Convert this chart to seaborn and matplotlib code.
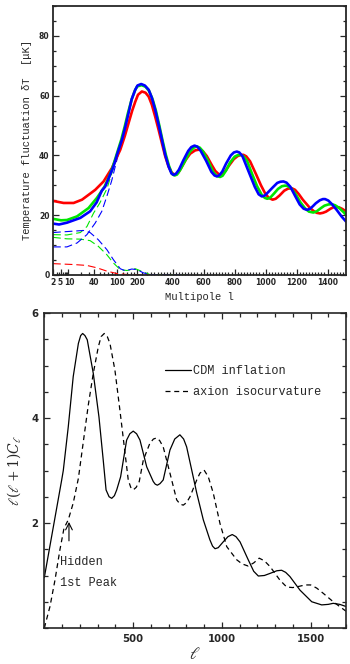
import numpy as np
import matplotlib
matplotlib.use("Agg")
import matplotlib.pyplot as plt
import seaborn as sns
from matplotlib.ticker import FixedLocator, MultipleLocator
from matplotlib.transforms import ScaledTranslation

# ---------------- top panel data (multipole l, delta T in microK) ----------------
red_l = [2, 6.4, 13.3, 20.8, 32, 41.6, 58, 81, 95, 111, 130, 148, 168, 187, 203, 219, 235, 250, 266, 284,
         304, 324, 345, 369, 393, 416, 437, 459, 485, 513, 545, 565, 577, 595, 620, 650, 675, 700, 718, 740,
         765, 795, 820, 840, 857, 875, 900, 940, 970, 995, 1020, 1045, 1065, 1090, 1120, 1145, 1170, 1190,
         1215, 1240, 1260, 1285, 1310, 1330, 1351, 1370, 1390, 1420, 1440, 1455, 1475, 1495, 1519]
red_T = [24.8, 24.1, 24.1, 25.2, 27.2, 28.5, 31.3, 35.8, 38.8, 41.9, 46.5, 50.8, 55.0, 58.0, 60.3, 61.4,
         61.0, 59.7, 57.0, 53.0, 48.5, 44.1, 39.8, 36.3, 34.2, 33.5, 34.3, 36.2, 38.6, 40.6, 41.7, 41.9,
         41.9, 41.4, 39.8, 37.0, 34.8, 33.6, 33.7, 34.8, 36.7, 38.8, 39.8, 40.2, 40.2, 39.7, 38.0, 33.5,
         30.0, 27.5, 25.8, 25.2, 25.5, 26.6, 28.2, 28.9, 29.0, 28.5, 27.0, 25.2, 24.0, 22.5, 21.4, 20.8,
         20.6, 20.8, 21.2, 22.2, 22.7, 22.8, 22.6, 22.1, 21.3]

green_l = [2, 5, 8.8, 15.9, 29.5, 44.5, 60, 72, 84, 100, 115, 130, 145, 165, 185, 200, 218, 235, 252, 270,
           288, 308, 328, 350, 372, 395, 412, 428, 450, 480, 510, 535, 556, 575, 595, 630, 660, 685, 706,
           722, 745, 770, 800, 820, 835, 855, 880, 915, 945, 975, 995, 1011, 1030, 1055, 1080, 1105, 1125,
           1140, 1165, 1195, 1225, 1255, 1280, 1308, 1330, 1355, 1380, 1405, 1427, 1450, 1475, 1500, 1519]
green_T = [18.8, 18.3, 18.4, 19.6, 22.4, 25.8, 29.5, 32.8, 36.3, 41.0, 45.3, 49.8, 54.2, 58.8, 61.8, 63.1,
           63.5, 63.0, 61.6, 58.8, 55.0, 50.0, 45.0, 40.2, 36.5, 33.8, 33.3, 33.6, 35.3, 38.2, 41.2, 42.6,
           43.0, 42.6, 41.4, 38.0, 34.6, 33.1, 32.8, 33.2, 35.0, 37.6, 39.6, 40.1, 40.2, 39.8, 38.2, 33.5,
           29.7, 26.8, 25.8, 25.5, 25.9, 27.3, 28.8, 29.7, 29.9, 29.8, 29.0, 27.0, 24.3, 22.3, 21.2, 20.9,
           21.3, 22.3, 23.2, 23.6, 23.7, 23.3, 22.4, 21.2, 20.2]

blue_l = [2, 4, 8.8, 19, 32, 44, 54, 62, 86, 100, 118, 133, 148, 165, 187, 201, 216, 232, 250, 266, 284,
          304, 324, 345, 369, 390, 405, 420, 440, 470, 500, 520, 541, 560, 580, 616, 650, 670, 685, 700, 720,
          745, 775, 795, 814, 830, 850, 895, 930, 955, 975, 995, 1020, 1046, 1075, 1095, 1115, 1135, 1160,
          1190, 1220, 1245, 1266, 1285, 1305, 1324, 1350, 1370, 1384, 1405, 1430, 1460, 1490, 1519]
blue_T = [17.2, 16.9, 17.5, 19.1, 21.3, 24.3, 28.2, 29.6, 36.3, 40.5, 45.3, 49.8, 54.2, 58.8, 62.0, 63.4,
          63.9, 63.4, 62.0, 59.3, 55.3, 50.3, 45.3, 40.3, 36.3, 34.0, 33.5, 33.8, 35.2, 38.5, 41.5, 42.8,
          43.3, 42.9, 41.6, 38.2, 34.5, 33.3, 33.0, 33.3, 34.6, 37.3, 40.0, 41.0, 41.3, 41.0, 39.8, 34.0,
          29.5, 27.0, 26.3, 26.6, 27.9, 29.3, 30.8, 31.2, 31.3, 30.9, 29.5, 26.5, 23.6, 22.2, 21.8, 22.1,
          23.0, 24.0, 25.0, 25.4, 25.4, 24.9, 23.6, 21.7, 19.6, 17.9]

# dashed components
blue_fall_l = [2, 5, 11, 22.6, 32, 47, 66, 86, 111, 132, 166, 198, 226, 265, 500]
blue_fall_T = [14.2, 14.4, 14.6, 14.9, 14.2, 11.8, 8.5, 5.1, 2.1, 1.4, 2.0, 1.8, 0.7, 0.1, 0.0]
blue_rise_l = [2, 8.8, 15.9, 27, 41.6, 54, 66, 80, 100, 130]
blue_rise_T = [9.4, 9.4, 10.7, 13.5, 17.4, 21.3, 26.3, 31.5, 39.0, 48.0]
green_fall_l = [2, 8.8, 19, 32, 47, 66, 86, 111, 140, 187, 219, 258, 500]
green_fall_T = [12.6, 12.1, 12.0, 11.5, 9.6, 6.8, 4.0, 1.8, 1.5, 2.1, 1.2, 0.1, 0.0]
green_rise_l = [2, 8.8, 19, 27, 38.5, 50, 66, 90, 120]
green_rise_T = [13.5, 13.4, 14.2, 16.2, 20.7, 24.1, 28.8, 37.0, 45.5]
red_fall_l = [2, 13.3, 27, 44.5, 66, 98, 150, 500]
red_fall_T = [3.8, 3.5, 3.2, 2.4, 1.3, 0.5, 0.1, 0.0]

top_xticks = [2, 5, 10, 40, 100, 200, 400, 600, 800, 1000, 1200, 1400]
top_yticks = [0, 20, 40, 60, 80]

# ---------------- bottom panel data ----------------
cdm_l = [0, 98, 107, 135, 163, 192, 205, 216, 229, 242, 276, 308, 332, 348, 365, 380, 395, 408, 430, 464,
         482, 501, 520, 539, 577, 614, 625, 637, 652, 670, 708, 735, 764, 785, 802, 839, 859, 896, 933,
         948, 962, 980, 1008, 1035, 1059, 1080, 1103, 1149, 1180, 1206, 1240, 1272, 1310, 1337, 1360,
         1384, 1441, 1507, 1563, 1600, 1628, 1665, 1700]
cdm_C = [0.96, 2.82, 3.0, 3.83, 4.79, 5.42, 5.57, 5.61, 5.57, 5.49, 4.85, 4.02, 3.2, 2.63, 2.50, 2.47,
         2.52, 2.63, 2.88, 3.58, 3.70, 3.75, 3.70, 3.58, 3.07, 2.79, 2.74, 2.72, 2.75, 2.82, 3.39, 3.60,
         3.68, 3.60, 3.45, 2.88, 2.57, 2.06, 1.68, 1.56, 1.51, 1.53, 1.64, 1.74, 1.78, 1.74, 1.64, 1.30,
         1.08, 0.99, 1.00, 1.04, 1.09, 1.10, 1.06, 0.98, 0.72, 0.50, 0.44, 0.45, 0.47, 0.45, 0.41]
axion_l = [0, 32, 60, 88, 111, 135, 163, 192, 220, 248, 276, 304, 320, 338, 355, 370, 398, 426, 455, 473,
           487, 501, 518, 535, 558, 595, 615, 633, 650, 670, 708, 746, 765, 783, 802, 821, 859, 877, 900,
           924, 952, 990, 1028, 1084, 1115, 1149, 1180, 1211, 1240, 1272, 1328, 1366, 1400, 1431, 1470,
           1501, 1535, 1572, 1628, 1700]
axion_C = [0.0, 0.41, 0.91, 1.49, 1.90, 2.06, 2.38, 2.85, 3.55, 4.25, 4.85, 5.35, 5.55, 5.61, 5.55, 5.42,
           4.91, 4.15, 3.33, 2.82, 2.68, 2.63, 2.68, 2.79, 3.2, 3.52, 3.60, 3.62, 3.57, 3.45, 2.95, 2.44,
           2.36, 2.34, 2.39, 2.5, 2.82, 2.95, 3.01, 2.88, 2.57, 1.99, 1.55, 1.30, 1.22, 1.18, 1.24, 1.33,
           1.28, 1.17, 0.91, 0.78, 0.77, 0.79, 0.82, 0.82, 0.76, 0.66, 0.50, 0.32]

# ---------------- style ----------------
sns.set_theme(style="ticks")
plt.rcParams["font.family"] = ["DejaVu Sans"]
plt.rcParams["mathtext.fontset"] = "dejavuserif"
MONO = ["Liberation Mono", "DejaVu Sans Mono"]

fig = plt.figure(figsize=(3.5, 6.64), dpi=100)

# custom multipole scale for the top panel: log-like at low l, linear above 400
SC_L = np.log10([2, 5, 10, 40, 100, 200, 400])
SC_U = np.array([52.7, 60.7, 68.0, 94.0, 117.0, 137.0, 172.5])
SC_SLOPE = 0.155


def fwd(l):
    l = np.asarray(l, dtype=float)
    lg = np.log10(np.clip(l, 1e-3, None))
    lo = np.interp(lg, SC_L, SC_U)
    ext = SC_U[0] + (lg - SC_L[0]) * (SC_U[1] - SC_U[0]) / (SC_L[1] - SC_L[0])
    lo = np.where(lg < SC_L[0], ext, lo)
    hi = SC_U[-1] + (l - 400.0) * SC_SLOPE
    return np.where(l < 400, lo, hi)


def inv(u):
    u = np.asarray(u, dtype=float)
    lo = np.interp(u, SC_U, SC_L)
    ext = SC_L[0] + (u - SC_U[0]) * (SC_L[1] - SC_L[0]) / (SC_U[1] - SC_U[0])
    lo = 10 ** np.where(u < SC_U[0], ext, lo)
    hi = 400.0 + (u - SC_U[-1]) / SC_SLOPE
    return np.where(u < SC_U[-1], lo, hi)


tick_font = dict(family="DejaVu Sans", weight="bold", size=5.5)

# ---------- top ----------
ax1 = fig.add_axes([53 / 350, 1 - 275 / 664, 293 / 350, 269 / 664])
ax1.set_xscale("function", functions=(fwd, inv))

for xs, ys, c in [(red_fall_l, red_fall_T, "#ff0000"), (green_fall_l, green_fall_T, "#00e600"),
                  (green_rise_l, green_rise_T, "#00e600"), (blue_fall_l, blue_fall_T, "#0000ff"),
                  (blue_rise_l, blue_rise_T, "#0000ff")]:
    sns.lineplot(x=xs, y=ys, ax=ax1, color=c, lw=0.8, sort=False, estimator=None,
                 linestyle=(0, (7, 3.5)))

for xs, ys, c in [(red_l, red_T, "#ff0000"), (green_l, green_T, "#00e600"), (blue_l, blue_T, "#0000ff")]:
    sns.lineplot(x=xs, y=ys, ax=ax1, color=c, lw=1.9, sort=False, estimator=None)

ax1.set_xlim(2, 1519)
ax1.set_ylim(0, 90)
ax1.xaxis.set_major_locator(FixedLocator(top_xticks))
ax1.set_xticklabels([str(t) for t in top_xticks], fontdict=tick_font)
minor_top = list(range(3, 10)) + list(range(20, 100, 10)) + list(range(120, 200, 20)) + \
    [v for v in range(220, 1520, 20) if v not in top_xticks]
ax1.xaxis.set_minor_locator(FixedLocator(minor_top))
ax1.set_yticks(top_yticks)
ax1.set_yticklabels([str(t) for t in top_yticks], fontdict=tick_font)
ax1.yaxis.set_minor_locator(MultipleLocator(5))
ax1.tick_params(which="both", direction="in", top=False, right=True, width=0.9, pad=2.5)
ax1.tick_params(which="major", length=4.5)
ax1.tick_params(which="minor", length=2.2)
for lab in ax1.get_xticklabels():
    if lab.get_text() == "5":
        lab.set_transform(lab.get_transform() + ScaledTranslation(-1.2 / 100, 0, fig.dpi_scale_trans))
    if lab.get_text() == "10":
        lab.set_transform(lab.get_transform() + ScaledTranslation(1.5 / 100, 0, fig.dpi_scale_trans))
for s in ax1.spines.values():
    s.set_linewidth(1.3)
ax1.set_xlabel("Multipole l", fontsize=7.6, family=MONO, labelpad=3)
ax1.set_ylabel("Temperature fluctuation \u03b4T  [\u03bcK]", fontsize=7.6, family=MONO, labelpad=5)

# ---------- bottom ----------
ax2 = fig.add_axes([44.3 / 350, 1 - 628 / 664, 301.7 / 350, 315 / 664])
sns.lineplot(x=cdm_l, y=cdm_C, ax=ax2, color="black", lw=0.9, sort=False, estimator=None,
             label="CDM inflation")
sns.lineplot(x=axion_l, y=axion_C, ax=ax2, color="black", lw=0.9, sort=False, estimator=None,
             linestyle=(0, (4, 3)), label="axion isocurvature")
ax2.set_xlim(0, 1700)
ax2.set_ylim(0, 6)
ax2.set_xticks([500, 1000, 1500])
ax2.set_xticklabels(["500", "1000", "1500"], fontdict=dict(tick_font, size=7.3))
ax2.xaxis.set_minor_locator(MultipleLocator(100))
ax2.set_yticks([2, 4, 6])
ax2.set_yticklabels(["2", "4", "6"], fontdict=dict(tick_font, size=7.3))
ax2.yaxis.set_minor_locator(MultipleLocator(0.5))
ax2.tick_params(which="both", direction="in", top=True, right=True, width=0.9, pad=4)
ax2.tick_params(which="major", length=4.5)
ax2.tick_params(which="minor", length=3)
for s in ax2.spines.values():
    s.set_linewidth(1.2)
ax2.set_xlabel(r"$\ell$", fontsize=12, labelpad=1)
ax2.set_ylabel(r"$\ell(\ell+1)C_\ell$", fontsize=10, labelpad=6)

leg = ax2.legend(loc="upper left", bbox_to_anchor=(0.40, 0.835), frameon=False,
                 handlelength=2.2, handletextpad=0.15, labelspacing=0.75, borderpad=0, borderaxespad=0,
                 prop=dict(family=MONO, size=8.6))

ax2.annotate("", xy=(139, 2.02), xytext=(139, 1.66),
             arrowprops=dict(arrowstyle="->", lw=0.8, color="black", shrinkA=0, shrinkB=0))
ax2.text(88, 1.26, "Hidden", ha="left", va="center", fontsize=8.6, family=MONO)
ax2.text(88, 0.86, "1st Peak", ha="left", va="center", fontsize=8.6, family=MONO)

fig.savefig("out.png", dpi=100)
